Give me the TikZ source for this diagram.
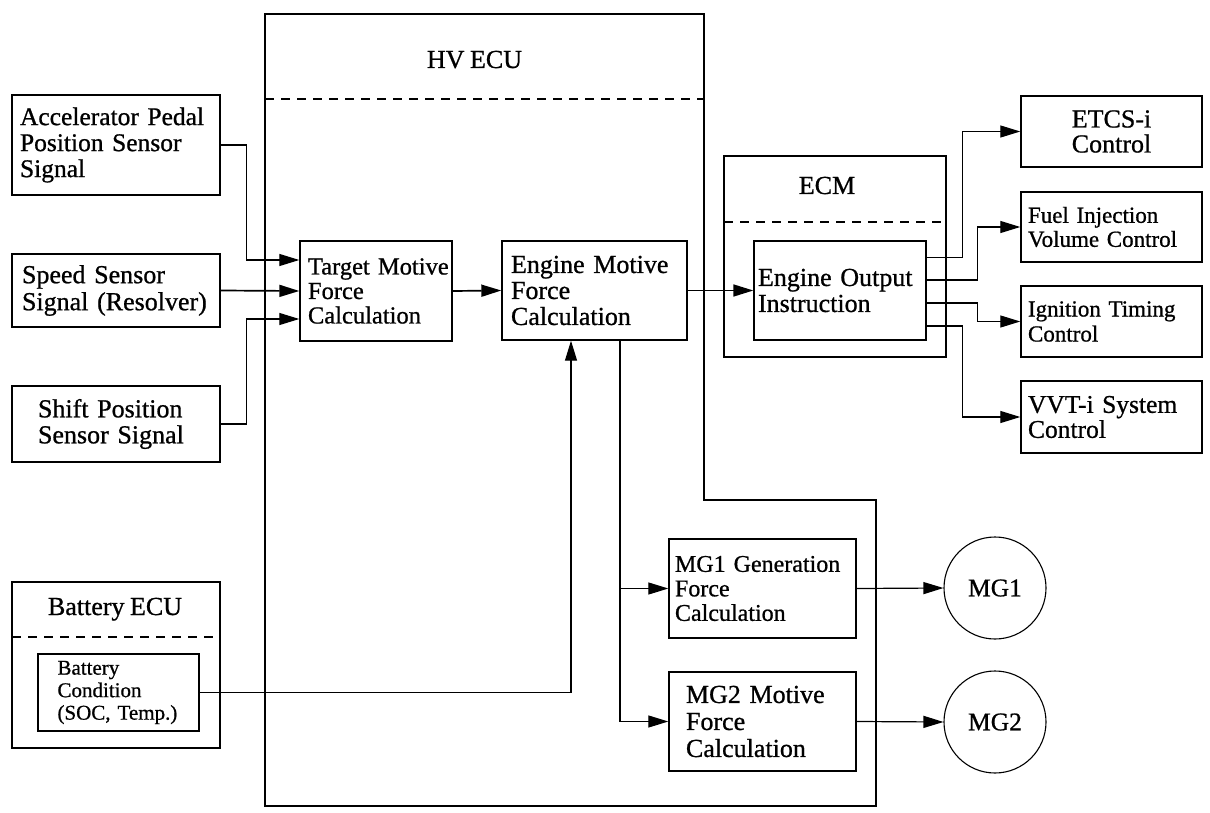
\documentclass[tikz,border=0pt]{standalone}
\usepackage{fontspec}
\setmainfont{Liberation Serif}[FakeBold=0.8,WordSpace=0.85]
\usetikzlibrary{arrows.meta}
\newcommand\myfs[2]{\fontsize{#1}{#2}\selectfont}
\begin{document}
\begin{tikzpicture}[x=1pt,y=-1pt,
  box/.style={draw, line width=1.4pt, inner sep=0pt, align=left},
  frame/.style={draw, line width=1.4pt, inner sep=0pt},
  arr/.style={line width=1.2pt, -{Triangle[length=20pt,width=12pt]}},
  thick arr/.style={arr, line width=1.7pt},
  dashsep/.style={line width=1.5pt, dash pattern=on 9pt off 7pt},
  lbl/.style={inner sep=0pt, anchor=base, font=\myfs{26}{26}},
  motor/.style={circle, draw, line width=1.1pt, minimum size=102pt, inner sep=0pt, font=\myfs{25.5}{25}}
  ]
\fill[white] (0,0) rectangle (1210,813);
\useasboundingbox (0,0) rectangle (1210,813);

% HV ECU outline
\draw[line width=1.4pt] (265,14) -- (704,14) -- (704,500) -- (876,500) -- (876,806) -- (265,806) -- cycle;
\draw[dashsep] (265,99) -- (704,99);
\node[lbl] (hvlbl) at (474.5,68) {HV ECU};

% ECM
\node[frame, minimum width=222pt, minimum height=201pt] (ecm) at (835,256.5) {};
\draw[dashsep] (724,222) -- (946,222);
\node[lbl] (ecmlbl) at (827,194) {ECM};

% Battery ECU
\node[frame, minimum width=208pt, minimum height=166pt] (batecu) at (116,665) {};
\draw[dashsep] (12,637) -- (220,637);
\node[lbl] (batlbl) at (115,615) {Battery ECU};
\node[box, minimum width=161pt, minimum height=77pt, text width=122pt, font=\myfs{21}{22.5}] (bcond) at (118.5,692.5) {\mbox{Battery}\\\mbox{Condition}\\\mbox{(SOC, Temp.)}};

% Inputs
\node[box, minimum width=208pt, minimum height=100pt, text width=192pt, font=\myfs{25.5}{26}] (acc) at (116,145) {\mbox{Accelerator Pedal}\\\mbox{Position Sensor}\\\mbox{Signal}};
\node[box, minimum width=208pt, minimum height=73pt, text width=188pt, font=\myfs{26}{27}] (spd) at (116,290.5) {\mbox{Speed Sensor}\\\mbox{Signal (Resolver)}};
\node[box, minimum width=208pt, minimum height=76pt, text width=156pt, font=\myfs{26}{26}] (shf) at (116,424) {\mbox{Shift Position}\\\mbox{Sensor Signal}};

% Calculations
\node[box, minimum width=152pt, minimum height=100pt, text width=136pt, font=\myfs{24.5}{24.5}] (tgt) at (376,291) {\mbox{Target Motive}\\\mbox{Force}\\\mbox{Calculation}};
\node[box, minimum width=185pt, minimum height=99pt, text width=167pt, font=\myfs{26}{26}] (emf) at (594.5,290.5) {\mbox{Engine Motive}\\\mbox{Force}\\\mbox{Calculation}};
\node[box, minimum width=172pt, minimum height=99pt, text width=164pt, font=\myfs{26}{26}] (eoi) at (840,290.5) {\mbox{Engine Output}\\\mbox{Instruction}};

% Engine controls
\node[box, align=center, minimum width=181pt, minimum height=71pt, font=\myfs{26}{25}] (etcs) at (1111.5,131.5) {ETCS-i\\Control};
\node[box, minimum width=181pt, minimum height=70pt, text width=167pt, font=\myfs{23}{24}] (fuel) at (1111.5,227) {\mbox{Fuel Injection}\\\mbox{Volume Control}};
\node[box, minimum width=181pt, minimum height=71pt, text width=167pt, font=\myfs{23}{25}] (ign) at (1111.5,321.5) {\mbox{Ignition Timing}\\\mbox{Control}};
\node[box, minimum width=181pt, minimum height=72pt, text width=167pt, font=\myfs{25.5}{25}] (vvt) at (1111.5,417) {\mbox{VVT-i System}\\\mbox{Control}};

% Motor generator calculations
\node[box, minimum width=187pt, minimum height=99pt, text width=175pt, font=\myfs{24}{24.5}] (mg1c) at (762.5,588.5) {\mbox{MG1 Generation}\\\mbox{Force}\\\mbox{Calculation}};
\node[box, minimum width=187pt, minimum height=99pt, text width=153pt, font=\myfs{26}{27}] (mg2c) at (762.5,721.5) {\mbox{MG2 Motive}\\\mbox{Force}\\\mbox{Calculation}};
\node[motor] (mg1) at (995,588) {MG1};
\node[motor] (mg2) at (995,722) {MG2};

% Connectors
\draw[arr] (acc.east) -- ++(26,0) |- ([yshift=31pt]tgt.west);
\draw[thick arr] (spd.east) -- (tgt.west);
\draw[arr] (shf.east) -- ++(26,0) |- ([yshift=-28pt]tgt.west);
\draw[thick arr] (tgt.east) -- (emf.west);
\draw[thick arr] (emf.east) -- (eoi.west);
\draw[arr] ([yshift=33pt]eoi.east) -- ++(36,0) |- (etcs.west);
\draw[arr] ([yshift=10.5pt]eoi.east) -- ++(51,0) |- (fuel.west);
\draw[arr] ([yshift=-12.5pt]eoi.east) -- ++(51,0) |- (ign.west);
\draw[arr] ([yshift=-35.5pt]eoi.east) -- ++(36,0) |- (vvt.west);
\draw[arr] ([xshift=25.5pt]emf.south) |- (mg1c.west);
\draw[arr] ([xshift=25.5pt]emf.south) |- (mg2c.west);
\draw[arr] (mg1c.east) -- (mg1.west);
\draw[arr] (mg2c.east) -- (mg2.west);
\draw[arr] (bcond.east) -| ([xshift=-23.5pt]emf.south);
\end{tikzpicture}
\end{document}
